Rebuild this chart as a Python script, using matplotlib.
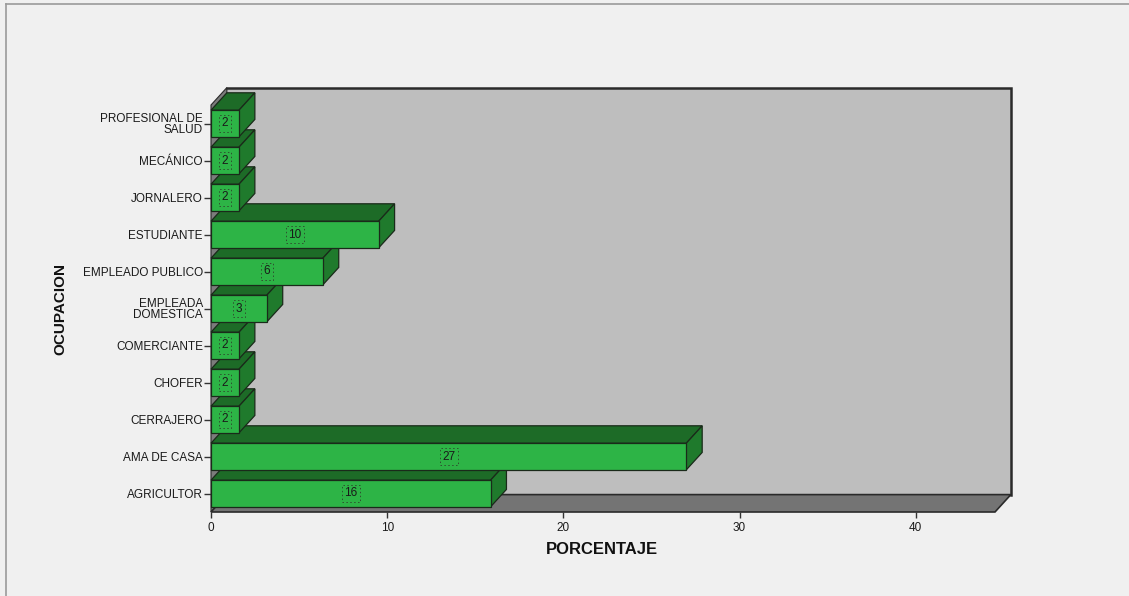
import matplotlib
matplotlib.use("Agg")
import matplotlib.pyplot as plt
from matplotlib.patches import Polygon
from matplotlib.lines import Line2D

plt.rcParams['font.family'] = ['Liberation Sans', 'DejaVu Sans']

# ---------------- Data ----------------
ocupaciones = [
    "AGRICULTOR", "AMA DE CASA", "CERRAJERO", "CHOFER", "COMERCIANTE",
    "EMPLEADA\nDOMESTICA", "EMPLEADO PUBLICO", "ESTUDIANTE", "JORNALERO",
    "MECÁNICO", "PROFESIONAL DE\nSALUD",
]
porcentaje = [15.87, 26.98, 1.59, 1.59, 1.59, 3.17, 6.35, 9.52, 1.59, 1.59, 1.59]
etiquetas = ["16", "27", "2", "2", "2", "3", "6", "10", "2", "2", "2"]
x_ticks = [0, 10, 20, 30, 40]

# ---------------- Style ----------------
W, H = 1129, 596
BG = "#f0f0f0"
WALL = "#bebebe"
FLOOR = "#747474"
SIDE_WALL = "#7c7c7c"
FRONT = "#2db446"
TOP = "#1d6b27"
SIDE = "#1f7a2c"
EDGE = "#1a2a1a"
XMAX = 44.5
DX, DY = 0.9, 0.47      # depth offset in data units
BAR_H = 0.72

fig = plt.figure(figsize=(W / 100, H / 100), dpi=100, facecolor=BG)
ax = fig.add_axes([211 / W, (H - 512) / H, 784 / W, 407 / H])
ax.set_xlim(0, XMAX)
ax.set_ylim(-0.5, len(ocupaciones) - 0.5)
ax.patch.set_visible(False)
for s in ax.spines.values():
    s.set_visible(False)

y0, y1 = -0.5, len(ocupaciones) - 0.5

# back wall
ax.add_patch(Polygon([(DX, y0 + DY), (XMAX + DX, y0 + DY), (XMAX + DX, y1 + DY), (DX, y1 + DY)],
                     closed=True, fc=WALL, ec="none", zorder=1, clip_on=False))
ax.plot([DX, XMAX + DX, XMAX + DX], [y1 + DY, y1 + DY, y0 + DY], color="#2a2a2a",
        lw=1.8, zorder=1.5, clip_on=False, solid_joinstyle="miter")
# left wall
ax.add_patch(Polygon([(0, y0), (DX, y0 + DY), (DX, y1 + DY), (0, y1)],
                     closed=True, fc=SIDE_WALL, ec="#2a2a2a", lw=0.8, zorder=1.2, clip_on=False))
# floor
ax.add_patch(Polygon([(0, y0), (XMAX, y0), (XMAX + DX, y0 + DY), (DX, y0 + DY)],
                     closed=True, fc=FLOOR, ec="#2a2a2a", lw=1.2, zorder=1.3, clip_on=False))

# ---------------- Bars ----------------
for i, (v, lab) in enumerate(zip(porcentaje, etiquetas)):
    b, t = i - BAR_H / 2, i + BAR_H / 2
    z = 3 + i
    ax.add_patch(Polygon([(0, t), (v, t), (v + DX, t + DY), (DX, t + DY)],
                         closed=True, fc=TOP, ec=EDGE, lw=0.9, zorder=z, clip_on=False))
    ax.add_patch(Polygon([(v, b), (v + DX, b + DY), (v + DX, t + DY), (v, t)],
                         closed=True, fc=SIDE, ec=EDGE, lw=0.9, zorder=z, clip_on=False))
    ax.add_patch(Polygon([(0, b), (v, b), (v, t), (0, t)],
                         closed=True, fc=FRONT, ec=EDGE, lw=0.9, zorder=z, clip_on=False))
    ax.text(v / 2, i, lab, ha="center", va="center", fontsize=8.5, color="#1a1a1a",
            zorder=z + 0.5,
            bbox=dict(boxstyle="square,pad=0.2", fc="none", ec="#2f4f2f",
                      ls=(0, (1.5, 2.5)), lw=0.7))

# ---------------- Axes ----------------
ax.set_yticks(range(len(ocupaciones)))
ax.set_yticklabels(ocupaciones, fontsize=8.5, linespacing=0.85, color="#1a1a1a")
ax.set_xticks(x_ticks)
ax.set_xticklabels([str(t) for t in x_ticks], fontsize=8.5, color="#1a1a1a")
ax.tick_params(axis="y", length=5, width=1, pad=0.8, color="#333333")
ax.tick_params(axis="x", length=4.5, width=1, pad=3, color="#333333")

fig.text(60.5 / W, 1 - 309 / H, "OCUPACION", rotation=90, ha="center", va="center",
         fontsize=11, fontweight="bold", color="#111111")
fig.text(602 / W, 1 - 549 / H, "PORCENTAJE", ha="center", va="center",
         fontsize=12, fontweight="bold", color="#111111")

# outer frame (top and left)
fig.add_artist(Line2D([6 / W, 1], [1 - 4 / H, 1 - 4 / H], transform=fig.transFigure,
                      color="#9a9a9a", lw=1.2))
fig.add_artist(Line2D([6 / W, 6 / W], [0, 1 - 4 / H], transform=fig.transFigure,
                      color="#9a9a9a", lw=1.2))

fig.savefig("out.png", dpi=100, facecolor=BG)
